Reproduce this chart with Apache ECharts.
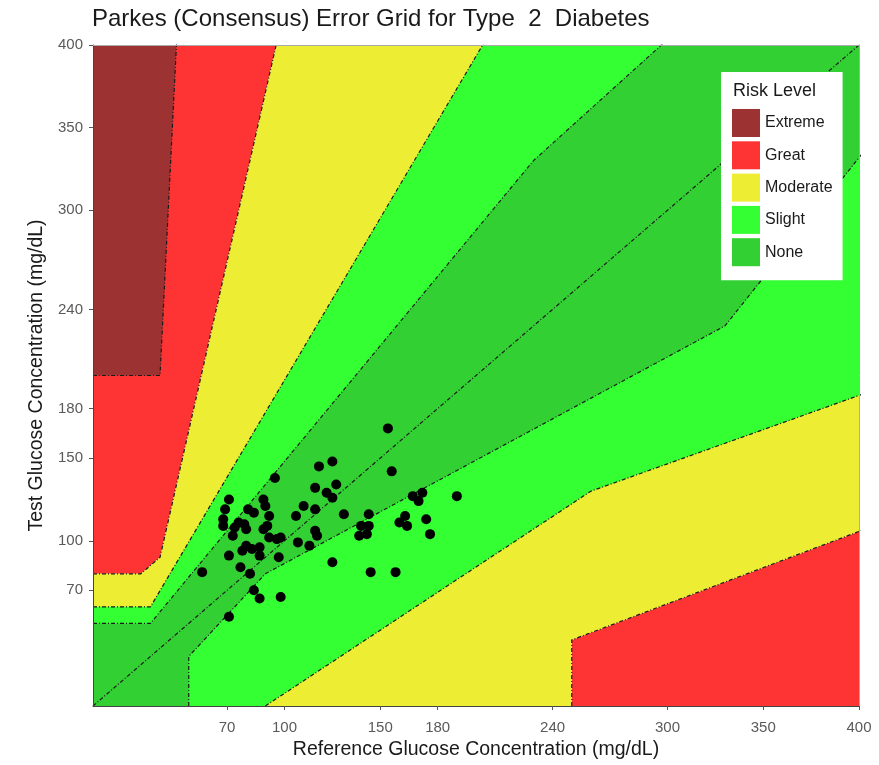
<!DOCTYPE html>
<html><head><meta charset="utf-8">
<script src="https://cdn.jsdelivr.net/npm/echarts@6/dist/echarts.min.js"></script>
<style>html,body{margin:0;padding:0;background:#fff}#chart{width:879px;height:765px}</style>
</head><body><div id="chart"></div>
<script>
// ---- data ----
const xTicks = [70, 100, 150, 180, 240, 300, 350, 400];
const yTicks = [70, 100, 150, 180, 240, 300, 350, 400];

// zone boundary lines (reference, test)
const zoneAUpper = [[0, 50], [30, 50], [230, 330], [440, 550]];
const zoneALower = [[50, 0], [50, 30], [90, 80], [330, 230], [550, 550]];
const zoneBUpper = [[0, 60], [30, 60], [280, 550]];
const zoneBLower = [[90, 0], [260, 130], [550, 250]];
const zoneCUpper = [[0, 80], [25, 80], [35, 90], [125, 550]];
const zoneCLower = [[250, 0], [250, 40], [410, 110], [550, 160]];
const zoneDUpper = [[0, 200], [35, 200], [50, 550]];
const identityLine = [[0, 0], [400, 400]];

const zoneNames = ['Extreme', 'Great', 'Moderate', 'Slight', 'None'];
const zoneColors = ['#9c3232', '#fe3333', '#eded33', '#33ff33', '#33d033'];

// measurement points
const refValues = [154,118,125,156,95,116,127,122,125,71,89,69,81,84,90,110,116,106,92,68,68,76,79,74,80,91,89,131,144,140,144,139,143,73,116,117,92,96,98,107,113,80,78,83,87,87,71,97,125,57,77,82,145,158,84,87,98,71,163,160,164,167,170,172,174,176,190];
const testValues = [168,145,148,142,138,132,134,129,126,125,125,119,119,117,121,121,119,115,115,113,109,111,110,108,107,109,107,116,116,109,109,103,104,103,106,103,102,101,102,99,97,97,94,95,96,91,91,90,87,81,84,80,81,81,70,65,66,54,115,111,109,127,124,129,113,104,127];

// ---- build ----
const rev = a => a.slice().reverse();
const polygons = {
  Great: [[...zoneCUpper, [0, 550]], [...zoneCLower, [550, 0]]],
  Extreme: [[...zoneDUpper, [0, 550]]],
  Moderate: [[...zoneCUpper, [550, 550], ...rev(zoneCLower), [0, 0]]],
  Slight: [[...zoneBUpper, [550, 550], ...rev(zoneBLower), [0, 0]]],
  None: [[...zoneAUpper, [550, 550], ...rev(zoneALower), [0, 0]]]
};
const drawOrder = ['Great', 'Extreme', 'Moderate', 'Slight', 'None'];
const colorOf = n => zoneColors[zoneNames.indexOf(n)];

const FONT = 'Liberation Sans, Arial, sans-serif';
const series = [];
drawOrder.forEach((name, i) => {
  const color = colorOf(name);
  series.push({
    type: 'custom', name, silent: true, clip: true, z: 1 + i,
    itemStyle: { color },
    data: [[0, 0]],
    renderItem: (params, api) => ({
      type: 'group',
      children: polygons[name].map(poly => ({
        type: 'polygon',
        shape: { points: poly.map(p => api.coord(p)) },
        style: { fill: color, stroke: null }
      }))
    })
  });
});
[zoneAUpper, zoneALower, zoneBUpper, zoneBLower, zoneCUpper, zoneCLower, zoneDUpper, identityLine].forEach(d => {
  series.push({
    type: 'line', data: d, symbol: 'none', silent: true, z: 7, clip: true,
    lineStyle: { color: '#1a1a1a', width: 1.2, type: [4, 2, 1, 2] }
  });
});
series.push({
  type: 'scatter', data: refValues.map((x, i) => [x, testValues[i]]),
  symbolSize: 10, itemStyle: { color: '#000', opacity: 1 }, z: 8, silent: true
});

const chart = echarts.init(document.getElementById('chart'));
chart.setOption({
  animation: false,
  textStyle: { fontFamily: FONT },
  title: [
    { text: 'Parkes (Consensus) Error Grid for Type  2  Diabetes', left: 92, top: 7, padding: 0,
      textStyle: { fontSize: 24, fontWeight: 'normal', color: '#1a1a1a', fontFamily: FONT } },
    { text: 'Risk Level', left: 733, top: 82, padding: 0, z: 30,
      textStyle: { fontSize: 18, fontWeight: 'normal', color: '#1a1a1a', fontFamily: FONT } }
  ],
  legend: {
    data: zoneNames.map((n, i) => ({ name: n, icon: 'rect', itemStyle: { color: zoneColors[i] } })),
    orient: 'vertical', left: 721, top: 72, itemWidth: 28, itemHeight: 28, itemGap: 4.3,
    padding: [37, 10, 14, 11], backgroundColor: '#fff', selectedMode: false, z: 20,
    textStyle: { fontSize: 16, color: '#1a1a1a', fontFamily: FONT }
  },
  grid: { left: 93, right: 20, top: 45, bottom: 58 },
  xAxis: [
    { type: 'value', min: 0, max: 400, position: 'bottom', z: 10,
      axisLine: { show: true, onZero: false, lineStyle: { color: '#444', width: 1 } },
      axisTick: { show: true, customValues: xTicks, length: 4, lineStyle: { color: '#555' } },
      axisLabel: { customValues: xTicks, color: '#5a5a5a', fontSize: 15, margin: 14, fontFamily: FONT },
      splitLine: { show: false },
      name: 'Reference Glucose Concentration (mg/dL)', nameLocation: 'middle', nameGap: 34,
      nameTextStyle: { color: '#1a1a1a', fontSize: 19.5, fontFamily: FONT } },
    { type: 'value', min: 0, max: 400, position: 'top', z: 10,
      axisLine: { show: true, onZero: false, lineStyle: { color: '#aaa', width: 1 } },
      axisTick: { show: false }, axisLabel: { show: false }, splitLine: { show: false } }
  ],
  yAxis: [
    { type: 'value', min: 0, max: 400, position: 'left', z: 10,
      axisLine: { show: true, onZero: false, lineStyle: { color: '#444', width: 1 } },
      axisTick: { show: true, customValues: yTicks, length: 4, lineStyle: { color: '#555' } },
      axisLabel: { customValues: yTicks, color: '#5a5a5a', fontSize: 15, margin: 10, fontFamily: FONT },
      splitLine: { show: false },
      name: 'Test Glucose Concentration (mg/dL)', nameLocation: 'middle', nameGap: 46,
      nameTextStyle: { color: '#1a1a1a', fontSize: 19.5, fontFamily: FONT } },
    { type: 'value', min: 0, max: 400, position: 'right', z: 10,
      axisLine: { show: true, onZero: false, lineStyle: { color: '#aaa', width: 1 } },
      axisTick: { show: false }, axisLabel: { show: false }, splitLine: { show: false } }
  ],
  series
});
</script></body></html>
